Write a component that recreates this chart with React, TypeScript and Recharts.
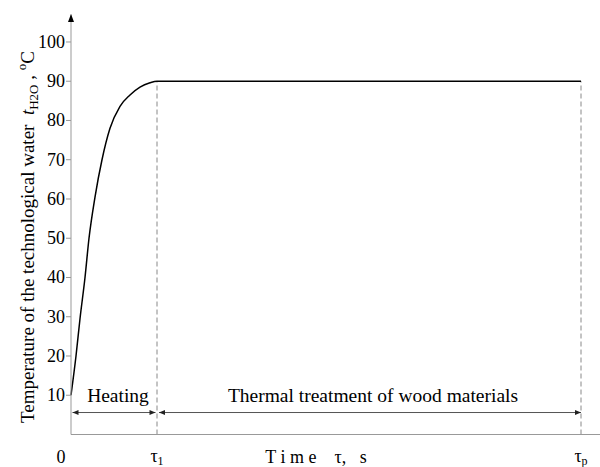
import React from "react";
import {
  LineChart,
  Line,
  XAxis,
  YAxis,
  ReferenceLine,
  ReferenceDot,
} from "recharts";

// time in arbitrary units (tau1 = 86, tau_p = 510)
const times = [0, 5, 9, 14, 18, 24, 31, 39, 49, 59, 69, 79, 86, 510];
const temps = [10, 20, 29.5, 40, 50, 60.5, 70, 78, 83.6, 86.5, 88.5, 89.6, 90, 90];

const yTicks = [10, 20, 30, 40, 50, 60, 70, 80, 90, 100];
const xTicks = [0, 86, 510];
const xTickLabels = ["0", "τ1", "τp"];

const tau1 = 86;
const tauP = 510;
const arrowY = 5.6;
const phaseLabels = [
  { x: 47, text: "Heating" },
  { x: 302, text: "Thermal treatment of wood materials" },
];
const phaseArrows = [
  [1.5, 84.5],
  [88, 510],
];

const data = times.map((t, i) => ({ t, temp: temps[i] }));

const FONT = "Liberation Serif";

function XTick({ x, y, payload, index }: any) {
  const label = xTickLabels[index] ?? String(payload.value);
  if (label === "0") {
    return (
      <text x={x - 10} y={y + 20} textAnchor="middle" fontSize={18} fontFamily={FONT} fill="#000">
        0
      </text>
    );
  }
  return (
    <text x={x} y={y + 19} textAnchor="middle" fontSize={18} fontFamily={FONT} fill="#000">
      <tspan>{label[0]}</tspan>
      <tspan fontSize={12} dy={3}>{label.slice(1)}</tspan>
    </text>
  );
}

function YTick({ x, y, payload }: any) {
  return (
    <text x={x} y={y + 6} textAnchor="end" fontSize={18} fontFamily={FONT} fill="#000">
      {payload.value}
    </text>
  );
}

function YLabel() {
  const x = 34;
  const y = 237;
  return (
    <text
      x={x}
      y={y}
      transform={`rotate(-90 ${x} ${y})`}
      textAnchor="middle"
      fontSize={19}
      fontFamily={FONT}
      fill="#000"
      style={{ whiteSpace: "pre" }}
    >
      <tspan>Temperature of the technological water  </tspan>
      <tspan fontStyle="italic">t</tspan>
      <tspan fontSize={13} dy={4}>H2O</tspan>
      <tspan dy={-4}> , </tspan>
      <tspan fontSize={13} dy={-8}>o</tspan>
      <tspan dy={8}>C</tspan>
    </text>
  );
}

function XLabel() {
  return (
    <text
      x={316}
      y={463}
      textAnchor="middle"
      fontSize={18}
      fontFamily={FONT}
      fill="#000"
      style={{ whiteSpace: "pre" }}
    >
      T i m e    τ,   s
    </text>
  );
}

function DoubleArrow(props: any) {
  const { x1, y1, x2 } = props;
  const h = 6;
  const w = 2.5;
  return (
    <g>
      <line x1={x1} y1={y1} x2={x2} y2={y1} stroke="#555" strokeWidth={1} />
      <polygon points={`${x1},${y1} ${x1 + h},${y1 - w} ${x1 + h},${y1 + w}`} fill="#222" />
      <polygon points={`${x2},${y1} ${x2 - h},${y1 - w} ${x2 - h},${y1 + w}`} fill="#222" />
    </g>
  );
}

function AxisArrow({ cx, cy }: any) {
  return <polygon points={`${cx},${cy - 0.5} ${cx - 3},${cy + 7.5} ${cx + 3},${cy + 7.5}`} fill="#000" />;
}

export default function App() {
  return (
    <div style={{ position: "absolute", left: 0, top: 0, width: 600, height: 467, background: "#fff" }}>
      <LineChart width={600} height={467} data={data} margin={{ top: 14.5, right: 0, left: 0, bottom: 0 }}>
        <XAxis
          dataKey="t"
          type="number"
          domain={[0, 529]}
          ticks={xTicks}
          tick={<XTick />}
          tickLine={false}
          axisLine={{ stroke: "#999" }}
          height={32.5}
          label={<XLabel />}
        />
        <YAxis
          type="number"
          domain={[0, 107]}
          ticks={yTicks}
          width={71}
          tickSize={5}
          tickMargin={1}
          tick={<YTick />}
          tickLine={{ stroke: "#999" }}
          axisLine={{ stroke: "#999" }}
          label={<YLabel />}
          allowDataOverflow
        />
        <ReferenceLine
          segment={[{ x: tau1, y: 0 }, { x: tau1, y: 90 }]}
          stroke="#888"
          strokeDasharray="5 3"
        />
        <ReferenceLine
          segment={[{ x: tauP, y: 0 }, { x: tauP, y: 90 }]}
          stroke="#888"
          strokeDasharray="5 3"
        />
        {phaseArrows.map(([a, b], i) => (
          <ReferenceLine
            key={i}
            segment={[{ x: a, y: arrowY }, { x: b, y: arrowY }]}
            shape={<DoubleArrow />}
          />
        ))}
        {phaseLabels.map((p, i) => (
          <ReferenceDot
            key={i}
            x={p.x}
            y={8.4}
            r={0}
            shape={(props: any) => (
              <text x={props.cx} y={props.cy} textAnchor="middle" fontSize={19.5} fontFamily={FONT} fill="#000">
                {p.text}
              </text>
            )}
          />
        ))}
        <ReferenceDot x={0} y={107} r={0} ifOverflow="visible" shape={<AxisArrow />} />
        <Line
          type="monotone"
          dataKey="temp"
          stroke="#000"
          strokeWidth={1.5}
          dot={false}
          isAnimationActive={false}
        />
      </LineChart>
    </div>
  );
}
